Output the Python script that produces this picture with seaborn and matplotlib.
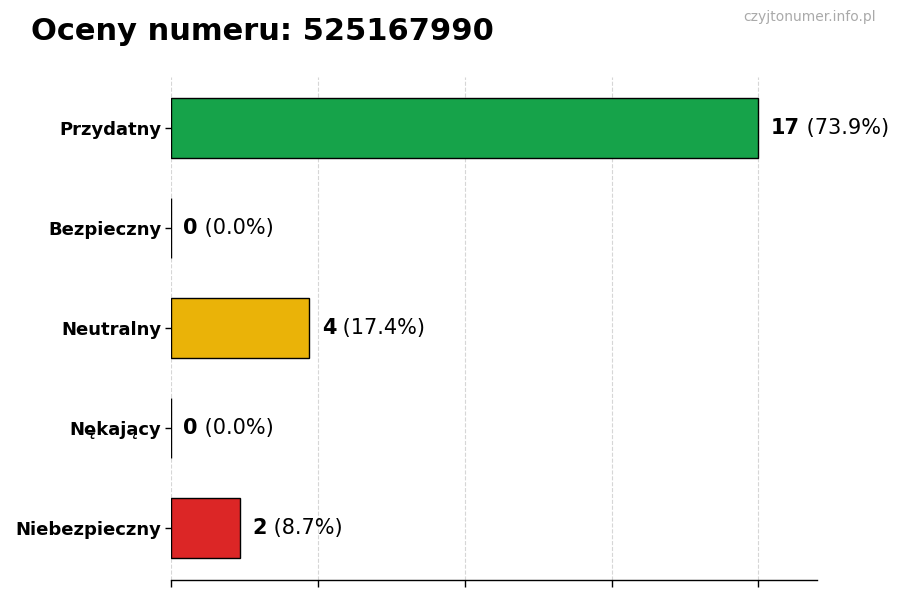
import numpy as np
import pandas as pd
import matplotlib
matplotlib.use("Agg")
import matplotlib.pyplot as plt
import seaborn as sns

categories = ["Przydatny", "Bezpieczny", "Neutralny", "Nękający", "Niebezpieczny"]
counts = [17, 0, 4, 0, 2]
colors = ["#16a34a", "#9ca3af", "#eab308", "#f97316", "#dc2626"]
phone = "525167990"

sns.set_theme(style="white")
plt.rcParams["font.family"] = ["DejaVu Sans"]
plt.rcParams["text.color"] = "black"
plt.rcParams["ytick.color"] = "black"
plt.rcParams["xtick.color"] = "black"

df = pd.DataFrame({"kategoria": categories, "liczba": counts})
total = sum(counts)
vmax = max(counts)

fig = plt.figure(figsize=(9, 6), dpi=100)
ax = fig.add_axes([0.19, 0.034, 0.718, 0.838])

sns.barplot(data=df, y="kategoria", x="liczba", hue="kategoria", palette=colors,
            orient="h", width=0.6, saturation=1, edgecolor="black", linewidth=1,
            legend=False, ax=ax)

ax.set_xlim(0, vmax * 1.1)
ax.set_ylim(4.52, -0.51)
ax.set_xticks(np.linspace(0, vmax, 5))
ax.set_xticklabels([])
ax.set_xlabel("")
ax.set_ylabel("")
ax.tick_params(axis="y", left=True, length=4, width=1, color="black", labelsize=13,
               labelcolor="black", pad=3)
ax.tick_params(axis="x", bottom=True, length=5, width=1, color="black")
for lab in ax.get_yticklabels():
    lab.set_fontweight("bold")
ax.grid(axis="x", linestyle="--", color="#cccccc", linewidth=0.8, alpha=0.8)
ax.set_axisbelow(True)
for side in ["top", "right", "left"]:
    ax.spines[side].set_visible(False)
ax.spines["bottom"].set_color("black")
ax.spines["bottom"].set_linewidth(1)

fig.canvas.draw()
renderer = fig.canvas.get_renderer()
for i, c in enumerate(counts):
    pct = c / total * 100 if total else 0
    t = ax.annotate(f"{c}", xy=(c, i), xytext=(9, 0), textcoords="offset points",
                    va="center", ha="left", fontsize=15, fontweight="bold", color="black")
    bb = t.get_window_extent(renderer)
    w_pts = bb.width * 72 / fig.dpi
    ax.annotate(f" ({pct:.1f}%)", xy=(c, i), xytext=(9 + w_pts, 0), textcoords="offset points",
                va="center", ha="left", fontsize=15, color="black")

fig.text(0.034, 0.947, f"Oceny numeru: {phone}", fontsize=22, fontweight="bold",
         ha="left", va="center", color="black")
fig.text(0.973, 0.971, "czyjtonumer.info.pl", fontsize=10, color="#aaaaaa",
         ha="right", va="center")

fig.savefig("out.png", dpi=100)
